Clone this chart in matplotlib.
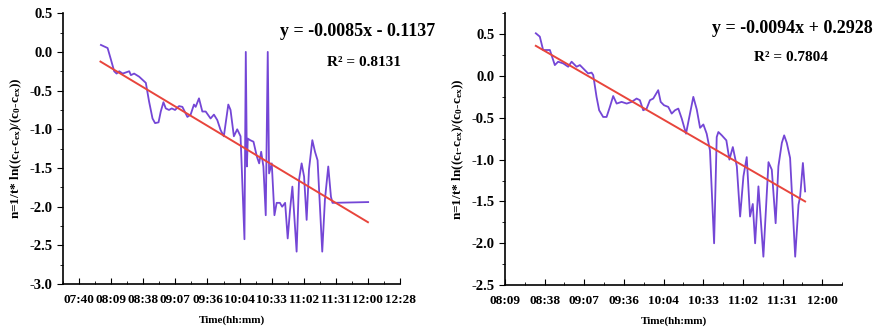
import numpy as np
import matplotlib
matplotlib.use('Agg')
import matplotlib.pyplot as plt
from matplotlib.ticker import MultipleLocator, FuncFormatter

plt.rcParams['font.family'] = ['Liberation Serif', 'DejaVu Serif']
plt.rcParams['font.weight'] = 'bold'
plt.rcParams['mathtext.fontset'] = 'custom'
plt.rcParams['mathtext.bf'] = 'Liberation Serif:bold'
plt.rcParams['mathtext.rm'] = 'Liberation Serif:bold'
plt.rcParams['mathtext.default'] = 'bf'

# left panel: start 08:00, minutes after start
left_start = 480
left_min = [0.4, 3.4, 6.4, 9.4, 12.3, 14.5, 16.8, 19.9, 25.8, 27.3, 30.2, 34.7, 39.2, 40.7,
            43.6, 46.7, 49.0, 52.1, 54.1, 56.5, 58.6, 61.5, 64.0, 66.9, 70.5, 73.5, 78.0,
            80.9, 83.9, 85.4, 88.4, 91.4, 94.4, 98.8, 101.8, 104.8, 107.8, 110.7, 114.7,
            116.7, 119.7, 122.7, 125.7, 126.6, 129.2, 130.4, 131.4, 132.2, 134.3, 137.3,
            140.3, 142.4, 144.2, 146.2, 148.3, 150.1, 151.3, 153.7, 156.1, 158.1, 161.0,
            163.0, 165.7, 168.0, 170.1, 172.2, 176.0, 178.2, 180.5, 182.7, 185.0, 187.1,
            190.1, 192.5, 194.8, 199.0, 201.4, 204.4, 206.8, 208.2, 240.2]
left_val = [0.09, 0.07, 0.05, -0.10, -0.25, -0.28, -0.25, -0.28, -0.25, -0.30, -0.28, -0.32,
            -0.38, -0.40, -0.64, -0.86, -0.92, -0.91, -0.77, -0.65, -0.73, -0.75, -0.73,
            -0.75, -0.70, -0.71, -0.84, -0.81, -0.68, -0.71, -0.60, -0.77, -0.77, -0.86,
            -0.81, -0.88, -1.01, -1.09, -0.68, -0.75, -1.09, -1.00, -1.09, -1.43, -2.42,
            0.0, -1.48, -1.12, -1.14, -1.16, -1.35, -1.44, -1.29, -1.48, -2.11, 0.0, -1.57,
            -1.44, -2.11, -1.95, -1.95, -2.00, -1.95, -2.41, -2.04, -1.74, -2.58, -1.65,
            -1.44, -1.61, -2.17, -1.52, -1.14, -1.29, -1.40, -2.58, -1.91, -1.48, -1.87,
            -1.95, -1.94]
left_fit_min = [0, 240]
left_fit_val = [-0.125, -2.20]

# right panel: start 08:32
right_start = 512
right_min = [0, 2.9, 5.3, 10.2, 13.8, 16.2, 19.9, 23.5, 26.0, 29.6, 32.0, 35.6, 38.0, 40.5,
             41.7, 44.1, 46.0, 48.9, 51.4, 53.8, 56.2, 58.7, 62.3, 66.0, 69.6, 73.2, 75.6,
             78.0, 80.5, 82.9, 85.3, 88.9, 90.7, 93.1, 96.2, 98.7, 101.1, 103.5, 106.0,
             109.1, 111.5, 114.4, 116.9, 119.3, 121.7, 124.1, 126.5, 129.5, 131.4, 132.6,
             135.1, 138.4, 140.6, 143.1, 146.0, 148.4, 150.8, 153.2, 155.6, 157.6, 159.3,
             161.7, 165.3, 169.0, 171.4, 174.2, 176.2, 178.7, 180.4, 182.3, 184.7, 188.4,
             190.8, 192.0, 194.0, 195.6]
right_val = [0.51, 0.47, 0.31, 0.31, 0.13, 0.17, 0.15, 0.11, 0.17, 0.11, 0.13, 0.07, 0.03,
             0.04, 0.01, -0.25, -0.41, -0.49, -0.49, -0.37, -0.24, -0.33, -0.31, -0.33,
             -0.31, -0.27, -0.29, -0.41, -0.39, -0.29, -0.27, -0.17, -0.31, -0.35, -0.37,
             -0.45, -0.41, -0.39, -0.51, -0.69, -0.49, -0.25, -0.40, -0.62, -0.58, -0.69,
             -0.89, -2.0, -0.73, -0.67, -0.71, -0.77, -1.0, -0.85, -1.08, -1.68, -1.20,
             -0.97, -1.68, -1.53, -2.0, -1.32, -2.16, -1.03, -1.12, -1.76, -1.08, -0.80,
             -0.71, -0.80, -0.98, -2.16, -1.54, -1.44, -1.04, -1.38]
right_fit_min = [0, 195.6]
right_fit_val = [0.36, -1.50]

purple = '#7446d6'
red = '#e8453c'


def hhmm(x, pos):
    m = int(np.floor(x * 1440 + 1e-6))
    return '%02d:%02d' % (m // 60, m % 60)


def style(ax, xlim, ylim, xmaj, ymaj, yticks):
    ax.set_xlim(*xlim)
    ax.set_ylim(*ylim)
    ax.xaxis.set_major_locator(MultipleLocator(xmaj))
    ax.xaxis.set_minor_locator(MultipleLocator(xmaj / 2))
    ax.xaxis.set_major_formatter(FuncFormatter(hhmm))
    ax.set_yticks(yticks)
    ax.yaxis.set_minor_locator(MultipleLocator(ymaj / 2))
    ax.yaxis.set_major_formatter(FuncFormatter(lambda v, p: '%.1f' % v))
    ax.spines['top'].set_visible(False)
    ax.spines['right'].set_visible(False)
    ax.spines['left'].set_linewidth(1.2)
    ax.spines['bottom'].set_linewidth(1.2)
    ax.tick_params(axis='x', which='both', direction='in', labelsize=9.5, pad=7)
    ax.tick_params(axis='x', which='major', length=4)
    ax.tick_params(axis='x', which='minor', length=2.5)
    ax.tick_params(axis='y', which='both', direction='out', labelsize=10.5)
    ax.tick_params(axis='y', which='major', length=4)
    ax.tick_params(axis='y', which='minor', length=2.5)
    for lab in ax.get_xticklabels() + ax.get_yticklabels():
        lab.set_fontweight('bold')
    ax.set_xlabel('Time(hh:mm)', fontsize=8, fontweight='bold', labelpad=7)
    ax.set_ylabel(r'n=1/t* ln((c$_t$-c$_{ex}$)/(c$_0$-c$_{ex}$))', fontsize=9.5,
                  fontweight='bold', labelpad=4)


fig = plt.figure(figsize=(8.79, 3.30), dpi=100)

ax1 = fig.add_axes([0.0717, 0.139, 0.3834, 0.821])
x1 = (left_start + np.array(left_min)) / 1440
ax1.plot(x1, left_val, color=purple, lw=1.3)
ax1.plot((left_start + np.array(left_fit_min)) / 1440, left_fit_val, color=red, lw=1.4)
style(ax1, (0.31, 0.52), (-3.0, 0.5), 0.02, 0.5, np.arange(-3.0, 0.51, 0.5))
fig.text(0.495, 0.905, 'y = -0.0085x - 0.1137', fontsize=13, fontweight='bold',
         ha='right', va='center')
fig.text(0.456, 0.812, 'R² = 0.8131', fontsize=11, fontweight='bold',
         ha='right', va='center')

ax2 = fig.add_axes([0.5745, 0.136, 0.3834, 0.824])
x2 = (right_start + np.array(right_min)) / 1440
ax2.plot(x2, right_val, color=purple, lw=1.3)
ax2.plot((right_start + np.array(right_fit_min)) / 1440, right_fit_val, color=red, lw=1.4)
style(ax2, (0.34, 0.51), (-2.5, 0.75), 0.02, 0.5, np.arange(-2.5, 0.51, 0.5))
fig.text(0.993, 0.915, 'y = -0.0094x + 0.2928', fontsize=13, fontweight='bold',
         ha='right', va='center')
fig.text(0.942, 0.827, 'R² = 0.7804', fontsize=11, fontweight='bold',
         ha='right', va='center')

fig.savefig('out.png', dpi=100)
